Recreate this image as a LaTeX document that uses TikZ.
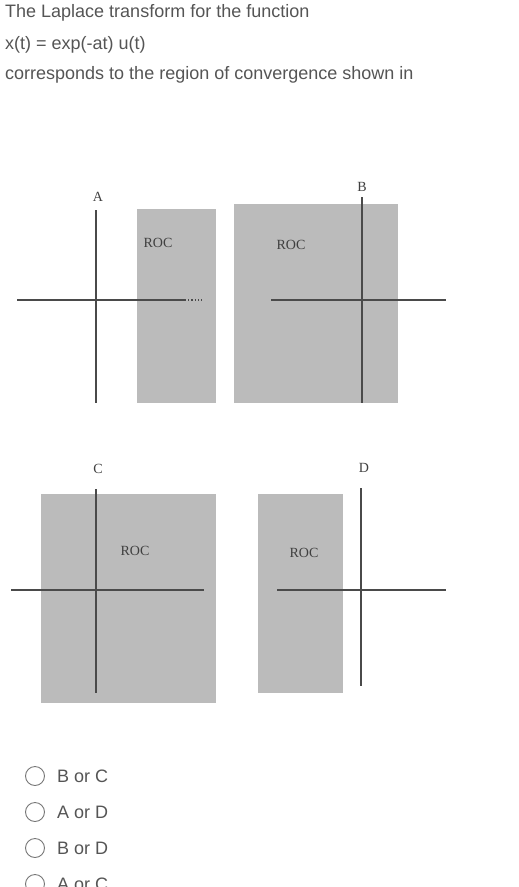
\documentclass[tikz,border=0pt]{standalone}
\usepackage{fontspec}
\setmainfont{Liberation Serif}
\newfontfamily\qfont{Liberation Sans}
\definecolor{rocgray}{HTML}{BBBBBB}
\definecolor{axisgray}{HTML}{4A4A4A}
\definecolor{textgray}{HTML}{555555}
\tikzset{
  roc/.style={fill=rocgray,draw=none},
  axis/.style={draw=axisgray,line width=1.2pt},
  qtext/.style={font=\qfont\fontsize{18}{20}\selectfont,text=textgray,anchor=west,inner sep=0pt},
  lbl/.style={font=\fontsize{14}{16}\selectfont,text=black!75,inner sep=0pt},
  radio/.style={draw=textgray!80,line width=0.9pt}
}
\begin{document}
\begin{tikzpicture}[x=1pt,y=-1pt]
\useasboundingbox[fill=white] (0,0) rectangle (519,887);
% question
\node[qtext] (q1) at (5,13) {The Laplace transform for the function};
\node[qtext] (q2) at (5,45) {x(t) = exp(-at) u(t)};
\node[qtext] (q3) at (5,75) {corresponds to the region of convergence shown in};
% A
\fill[roc] (137,209) rectangle (216,403);
\draw[axis] (96,210) -- (96,403);
\draw[axis] (17,300) -- (185,300);
\draw[axis,dotted] (185,300) -- (203,300);
\node[lbl] (la) at (98,197) {A};
\node[lbl] (ra) at (158,243) {ROC};
% B
\fill[roc] (234,204) rectangle (398,403);
\draw[axis] (362,197) -- (362,403);
\draw[axis] (271,300) -- (446,300);
\node[lbl] (lb) at (362,187) {B};
\node[lbl] (rb) at (291,245) {ROC};
% C
\fill[roc] (41,494) rectangle (216,703);
\draw[axis] (96,489) -- (96,693);
\draw[axis] (11,590) -- (204,590);
\node[lbl] (lc) at (98,469) {C};
\node[lbl] (rc) at (135,551) {ROC};
% D
\fill[roc] (258,494) rectangle (343,693);
\draw[axis] (361,488) -- (361,686);
\draw[axis] (277,590) -- (446,590);
\node[lbl] (ld) at (364,468) {D};
\node[lbl] (rd) at (304,553) {ROC};
% answers
\foreach \y/\txt [count=\i] in {776/B or C,812/A or D,848/B or D,884/A or C}{
  \draw[radio] (35,\y) circle (9.5);
  \node[qtext] (opt\i) at (57,\y) {\txt};
}
\end{tikzpicture}
\end{document}
